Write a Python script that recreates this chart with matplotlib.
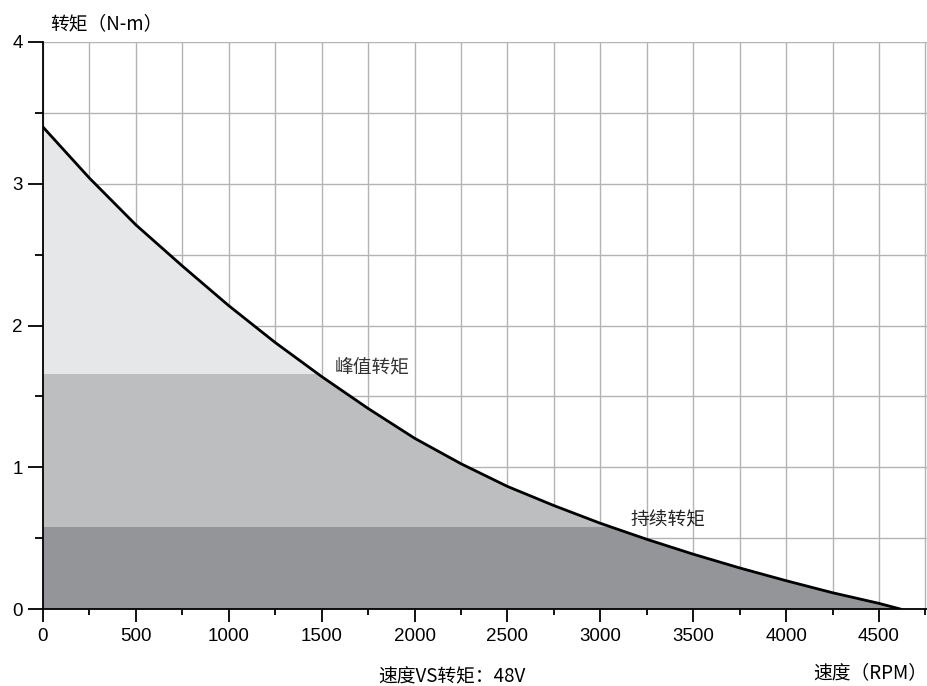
import numpy as np
import matplotlib
matplotlib.use('Agg')
import matplotlib.pyplot as plt
from matplotlib.ticker import MultipleLocator

plt.rcParams['font.family'] = ['Liberation Sans', 'Noto Sans CJK SC', 'DejaVu Sans']
cjk = ['Noto Sans CJK SC', 'DejaVu Sans']

# speed (RPM) vs torque (N-m)
speed = [0, 250, 500, 750, 1000, 1250, 1500, 1750, 2000, 2250, 2500, 2750,
         3000, 3250, 3500, 3750, 4000, 4250, 4500, 4615]
torque = [3.40, 3.04, 2.71, 2.42, 2.14, 1.88, 1.64, 1.415, 1.205, 1.025, 0.865, 0.73,
          0.605, 0.492, 0.387, 0.29, 0.20, 0.115, 0.04, 0.0]
peak_level = 1.66
cont_level = 0.58

y_label = '转矩（N-m）'
x_label = '速度（RPM）'
title = '速度VS转矩：48V'
peak_text = '峰值转矩'
cont_text = '持续转矩'

fig = plt.figure(figsize=(9.28, 6.86), dpi=100)
ax = fig.add_axes([0.0463, 0.1122, 1 - 0.0463, 0.8266])

# whole area under the curve, then the two bands clipped to it
area = ax.fill_between(speed, 0, torque, color='#e6e7e8', lw=0, zorder=2)
clip = area.get_paths()[0]
for level, col in [(peak_level, '#bcbec0'), (cont_level, '#939598')]:
    band = ax.axhspan(0, level, color=col, lw=0, zorder=2)
    band.set_clip_path(clip, ax.transData)
ax.plot(speed, torque, color='black', lw=2, zorder=4, solid_joinstyle='round')

ax.set_xlim(0, 4764)
ax.set_ylim(0, 4)
ax.xaxis.set_major_locator(MultipleLocator(500))
ax.xaxis.set_minor_locator(MultipleLocator(250))
ax.yaxis.set_major_locator(MultipleLocator(1))
ax.yaxis.set_minor_locator(MultipleLocator(0.5))
ax.grid(which='both', color='#b3b3b3', lw=1, zorder=1)
ax.set_axisbelow(True)

for s in ['top', 'right']:
    ax.spines[s].set_visible(False)
for s in ['left', 'bottom']:
    ax.spines[s].set_linewidth(1.3)
    ax.spines[s].set_zorder(5)

ax.tick_params(axis='x', which='major', length=9, width=1.3, pad=5, labelsize=13.5)
ax.tick_params(axis='x', which='minor', length=4.5, width=1.3)
ax.tick_params(axis='y', which='major', length=10.5, width=1.3, pad=4, labelsize=13.5)
ax.tick_params(axis='y', which='minor', length=6, width=1.3)

fig.text(50 / 928, 1 - 24 / 686, y_label, family=cjk, fontsize=13.5, ha='left', va='center')
fig.text(452 / 928, 1 - 677 / 686, title, family=cjk, fontsize=13.5, ha='center', va='center')
fig.text(927 / 928, 1 - 673 / 686, x_label, family=cjk, fontsize=13.5, ha='right', va='center')
ax.text(1572, 1.71, peak_text, family=cjk, fontsize=13.5, color='#333333',
        ha='left', va='center', zorder=6)
ax.text(3165, 0.63, cont_text, family=cjk, fontsize=13.5, color='#222222',
        ha='left', va='center', zorder=6)

fig.savefig('out.png', dpi=100)
